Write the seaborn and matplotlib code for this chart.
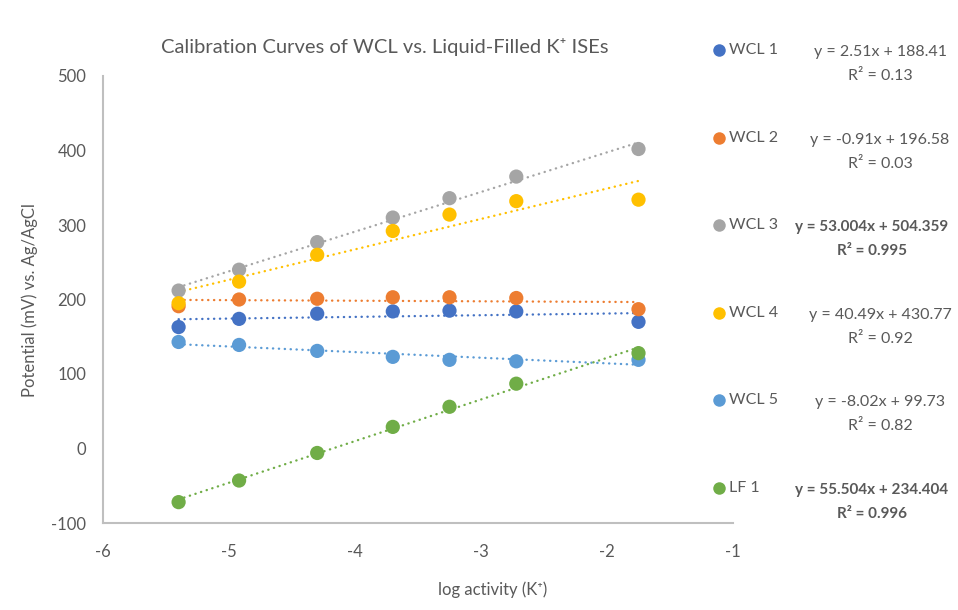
import numpy as np
import pandas as pd
import matplotlib
matplotlib.use("Agg")
import matplotlib.pyplot as plt
import seaborn as sns
from matplotlib.lines import Line2D

# ---- data ----
log_activity = [-5.40, -4.92, -4.30, -3.70, -3.25, -2.72, -1.75]
wcl1 = [163, 174, 181, 184, 185, 184, 170]
wcl2 = [191, 200, 201, 203, 203, 202, 187]
wcl3 = [212, 240, 277, 310, 336, 365, 402]
wcl4 = [195, 224, 260, 292, 314, 332, 334]
wcl5 = [143, 139, 131, 123, 119, 117, 119]
lf1 = [-72, -43, -6, 29, 56, 87, 128]

series_names = ["WCL 1", "WCL 2", "WCL 3", "WCL 4", "WCL 5", "LF 1"]
series_values = [wcl1, wcl2, wcl3, wcl4, wcl5, lf1]
colors = ["#4472C4", "#ED7D31", "#A5A5A5", "#FFC000", "#5B9BD5", "#70AD47"]
equations = [
    "y = 2.51x + 188.41", "y = -0.91x + 196.58", "y = 53.004x + 504.359",
    "y = 40.49x + 430.77", "y = -8.02x + 99.73", "y = 55.504x + 234.404",
]
r2_labels = ["R² = 0.13", "R² = 0.03", "R² = 0.995", "R² = 0.92", "R² = 0.82", "R² = 0.996"]
bold_eq = [False, False, True, False, False, True]

title = "Calibration Curves of WCL vs. Liquid-Filled K⁺ ISEs"
xlabel = "log activity (K⁺)"
ylabel = "Potential (mV) vs. Ag/AgCl"
x_ticks = [-6, -5, -4, -3, -2, -1]
y_ticks = [-100, 0, 100, 200, 300, 400, 500]

df = pd.DataFrame({
    "x": np.tile(log_activity, len(series_names)),
    "y": np.concatenate(series_values),
    "series": np.repeat(series_names, len(log_activity)),
})

sns.set_style("white")
plt.rcParams["font.family"] = ["Lato", "DejaVu Sans"]
plt.rcParams["axes.unicode_minus"] = False
text_color = "#595959"

W, H = 958, 610
fig = plt.figure(figsize=(W / 100, H / 100), dpi=100)
ax = fig.add_axes([103 / W, 1 - 523 / H, 630 / W, 447 / H])

# trendlines
for name, c in zip(series_names, colors):
    sub = df[df["series"] == name]
    sns.regplot(data=sub, x="x", y="y", ax=ax, scatter=False, ci=None, truncate=True,
                line_kws=dict(color=c, lw=1.7, linestyle=(0, (0.1, 2.4)),
                              dash_capstyle="round", zorder=2))

# points
sns.scatterplot(data=df, x="x", y="y", hue="series", palette=colors,
                hue_order=series_names, s=105, edgecolor="none", ax=ax,
                legend=False, zorder=3)

ax.set_xlim(-6, -1)
ax.set_ylim(-100, 500)
ax.set_xticks(x_ticks)
ax.set_yticks(y_ticks)
ax.tick_params(axis="both", length=0, labelsize=12, labelcolor=text_color)
ax.tick_params(axis="y", pad=12)
ax.tick_params(axis="x", pad=15)
for s in ["top", "right"]:
    ax.spines[s].set_visible(False)
for s in ["left", "bottom"]:
    ax.spines[s].set_color("#BFBFBF")
    ax.spines[s].set_linewidth(1.5)
ax.set_xlabel("")
ax.set_ylabel("")
fig.text(493 / W, 1 - 590 / H, xlabel, ha="center", va="center", fontsize=12, color=text_color)
fig.text(30 / W, 1 - 300 / H, ylabel, ha="center", va="center", rotation=90,
         fontsize=12, color=text_color)

fig.text(385 / W, 1 - 47 / H, title, ha="center", va="center", fontsize=14.5, color=text_color)

# legend + equations
for i, (name, c) in enumerate(zip(series_names, colors)):
    yp = 50 + 87.6 * i
    fig.add_artist(Line2D([719 / W], [1 - yp / H], marker="o", color=c, markersize=9,
                          markeredgewidth=0, transform=fig.transFigure))
    fig.text(729 / W, 1 - yp / H, name, ha="left", va="center", fontsize=11.5, color=text_color)
    if bold_eq[i]:
        fw, fs, xc = "bold", 11.0, 872
    else:
        fw, fs, xc = "normal", 11.5, 880
    fig.text(xc / W, 1 - (yp + 2) / H, equations[i], ha="center", va="center",
             fontsize=fs, color=text_color, fontweight=fw)
    fig.text(xc / W, 1 - (yp + 26) / H, r2_labels[i], ha="center", va="center",
             fontsize=fs, color=text_color, fontweight=fw)

fig.savefig("out.png", dpi=100)
